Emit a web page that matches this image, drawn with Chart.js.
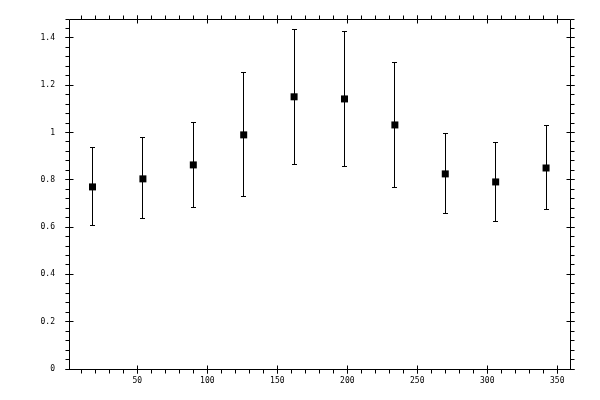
<!DOCTYPE html>
<html>
<head>
<meta charset="utf-8">
<script src="https://cdn.jsdelivr.net/npm/chart.js@4"></script>
<style>
  html,body{margin:0;padding:0;background:#fff;}
  #wrap{width:600px;height:400px;}
</style>
</head>
<body>
<div id="wrap"><canvas id="cv" width="600" height="400"></canvas></div>
<script>
'use strict';
// ── DATA ──────────────────────────────────────────────────────
const ANGLE  = [18, 54, 90, 126, 162, 198, 234, 270, 306, 342];
const VALUE  = [0.770, 0.804, 0.863, 0.990, 1.151, 1.142, 1.032, 0.825, 0.791, 0.850];
const ERR_LO = [0.606, 0.635, 0.685, 0.728, 0.863, 0.856, 0.766, 0.656, 0.622, 0.673];
const ERR_HI = [0.935, 0.977, 1.041, 1.252, 1.437, 1.426, 1.297, 0.997, 0.959, 1.028];

const X_MAJOR = [50, 100, 150, 200, 250, 300, 350];
const X_LABELS = ['50', '100', '150', '200', '250', '300', '350'];
const X_MINOR_STEP = 10;
const Y_MAJOR = [0, 0.2, 0.4, 0.6, 0.8, 1, 1.2, 1.4];
const Y_LABELS = ['0', '0.2', '0.4', '0.6', '0.8', '1', '1.2', '1.4'];
const Y_MINOR_STEP = 0.04;

const X_MIN = 1.2, X_MAX = 359.1;
const Y_MIN = 0, Y_MAX = 1.48;

const FONT = { family: 'DejaVu Sans Mono', size: 8 };

// ── PLUGINS ───────────────────────────────────────────────────
const px = v => Math.floor(v) + 0.5;

// error bars, drawn under the markers
const errBars = {
  id: 'errBars',
  beforeDatasetsDraw(chart) {
    const { ctx, scales: { x, y } } = chart;
    ctx.save();
    ctx.strokeStyle = '#000';
    ctx.lineWidth = 1;
    ctx.beginPath();
    ANGLE.forEach((a, i) => {
      const cx = px(x.getPixelForValue(a));
      const y0 = px(y.getPixelForValue(ERR_LO[i]));
      const y1 = px(y.getPixelForValue(ERR_HI[i]));
      ctx.moveTo(cx, y0); ctx.lineTo(cx, y1);
      ctx.moveTo(cx - 2.5, y0); ctx.lineTo(cx + 2.5, y0);
      ctx.moveTo(cx - 2.5, y1); ctx.lineTo(cx + 2.5, y1);
    });
    ctx.stroke();
    ctx.restore();
  }
};

// box frame with ticks on all four sides: major cross the line, minor point out
const frame = {
  id: 'frame',
  afterDraw(chart) {
    const { ctx, chartArea: a, scales: { x, y } } = chart;
    const L = px(a.left), R = px(a.right), T = px(a.top), B = px(a.bottom);
    ctx.save();
    ctx.strokeStyle = '#000';
    ctx.lineWidth = 1;
    ctx.beginPath();
    ctx.rect(L, T, R - L, B - T);
    // x minor
    for (let v = Math.ceil(X_MIN / X_MINOR_STEP) * X_MINOR_STEP; v <= X_MAX; v += X_MINOR_STEP) {
      const p = px(x.getPixelForValue(v));
      ctx.moveTo(p, B); ctx.lineTo(p, B + 4);
      ctx.moveTo(p, T); ctx.lineTo(p, T - 4);
    }
    X_MAJOR.forEach(v => {
      const p = px(x.getPixelForValue(v));
      ctx.moveTo(p, B - 4); ctx.lineTo(p, B + 4);
      ctx.moveTo(p, T - 4); ctx.lineTo(p, T + 4);
    });
    // y minor
    for (let k = 0; k * Y_MINOR_STEP <= Y_MAX + 1e-9; k++) {
      const p = px(y.getPixelForValue(k * Y_MINOR_STEP));
      ctx.moveTo(L, p); ctx.lineTo(L - 4, p);
      ctx.moveTo(R, p); ctx.lineTo(R + 4, p);
    }
    Y_MAJOR.forEach(v => {
      const p = px(y.getPixelForValue(v));
      ctx.moveTo(L - 4, p); ctx.lineTo(L + 4, p);
      ctx.moveTo(R - 4, p); ctx.lineTo(R + 4, p);
    });
    ctx.stroke();
    ctx.restore();
  }
};

// ── CHART ─────────────────────────────────────────────────────
new Chart(document.getElementById('cv').getContext('2d'), {
  type: 'scatter',
  data: {
    datasets: [{
      data: ANGLE.map((a, i) => ({ x: a, y: VALUE[i] })),
      pointStyle: 'rect',
      pointRadius: 4.95,
      pointHoverRadius: 4.95,
      pointBorderWidth: 0,
      backgroundColor: '#000',
      borderColor: '#000'
    }]
  },
  options: {
    responsive: false,
    animation: false,
    devicePixelRatio: 1,
    layout: { padding: { left: 0, top: 19, right: 30, bottom: 0 } },
    plugins: { legend: { display: false }, tooltip: { enabled: false } },
    scales: {
      x: {
        type: 'linear', min: X_MIN, max: X_MAX,
        grid: { display: false, drawTicks: false },
        border: { display: false },
        afterBuildTicks: s => { s.ticks = X_MAJOR.map(v => ({ value: v })); },
        afterFit: s => { s.height = 31; },
        ticks: {
          autoSkip: false, maxRotation: 0, padding: 7,
          color: '#000', font: FONT,
          callback: (v, i) => X_LABELS[i]
        }
      },
      y: {
        type: 'linear', min: Y_MIN, max: Y_MAX,
        grid: { display: false, drawTicks: false },
        border: { display: false },
        afterBuildTicks: s => { s.ticks = Y_MAJOR.map(v => ({ value: v })); },
        afterFit: s => { s.width = 69; },
        ticks: {
          autoSkip: false, padding: 14,
          color: '#000', font: FONT,
          callback: (v, i) => Y_LABELS[i]
        }
      }
    }
  },
  plugins: [errBars, frame]
});
</script>
</body>
</html>
